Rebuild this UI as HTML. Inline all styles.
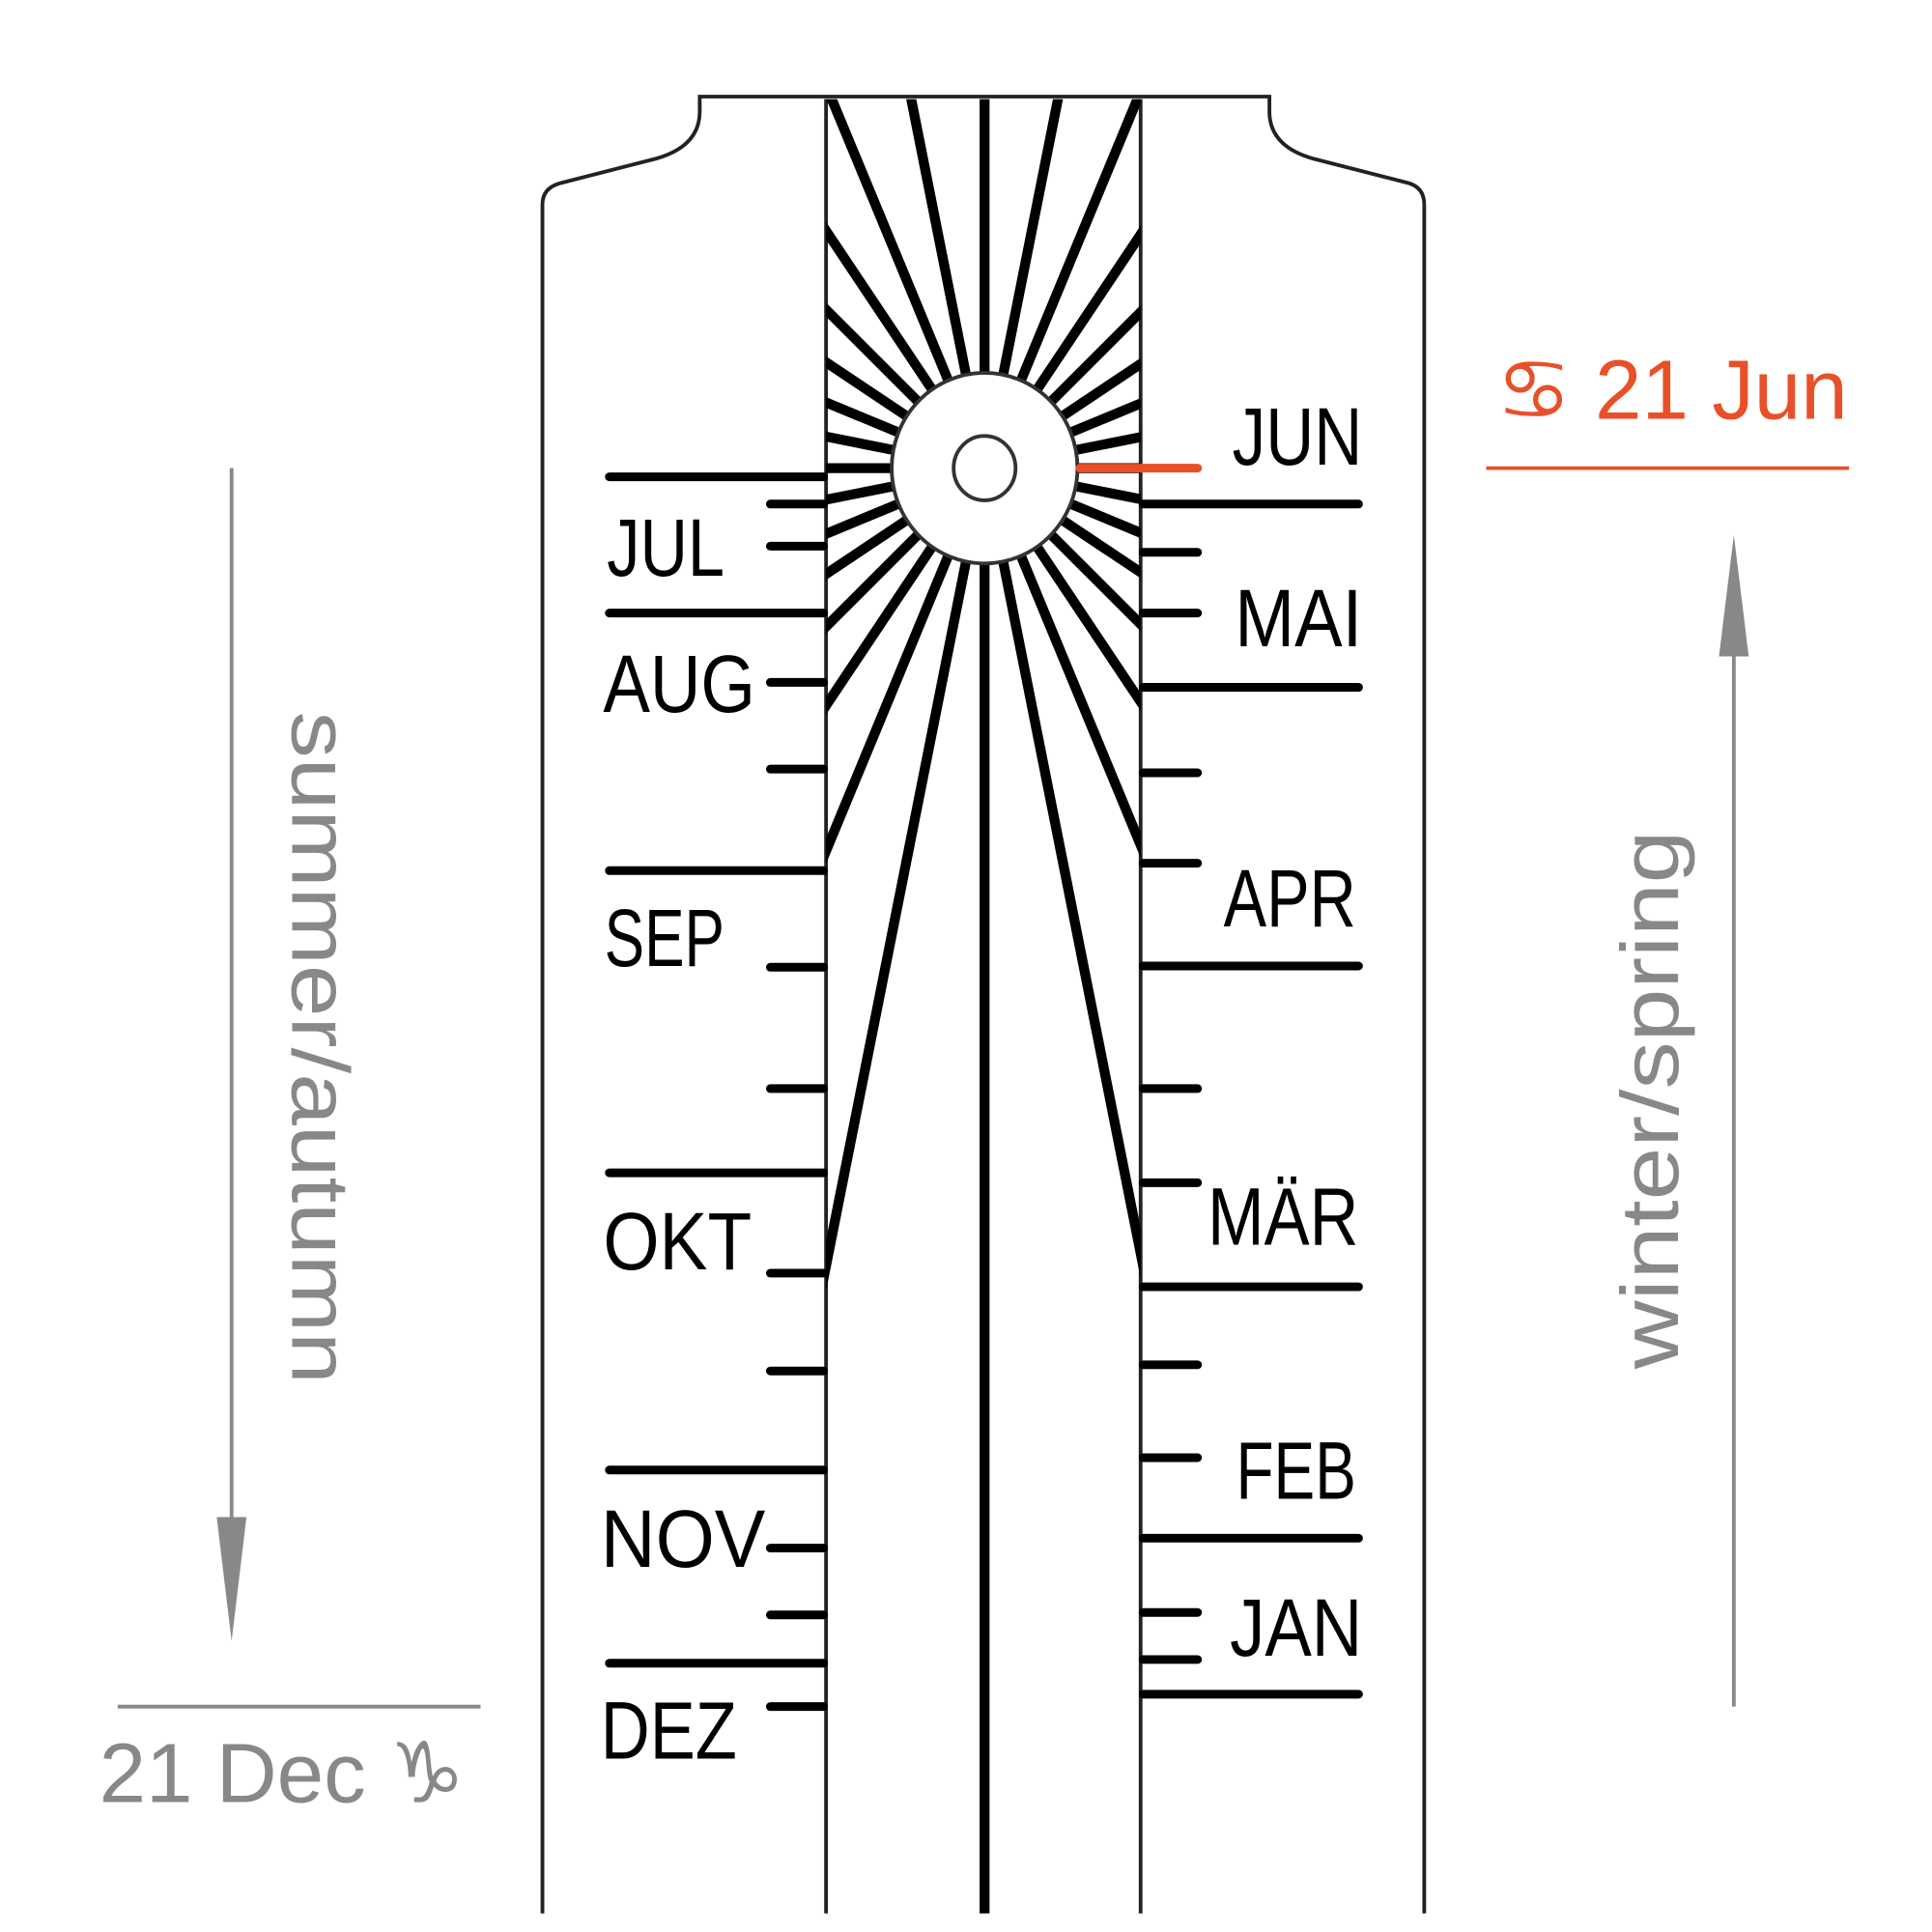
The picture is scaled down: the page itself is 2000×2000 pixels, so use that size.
<!DOCTYPE html>
<html><head><style>html,body{margin:0;padding:0;background:#fff;width:2000px;height:2000px;overflow:hidden}svg{display:block}</style></head>
<body>
<svg width="2000" height="2000" viewBox="0 0 1560 1560" xmlns="http://www.w3.org/2000/svg">
<defs><clipPath id="c"><rect x="667" y="80" width="254" height="1466"/></clipPath></defs>
<path d="M438,1545 V165 Q438,152 452,148 L530,128 Q565,118 565,90 V78 H1025 V90 Q1025,118 1060,128 L1138,148 Q1150,152 1150,165 V1545" fill="none" stroke="#222" stroke-width="3"/>
<line x1="667" y1="80" x2="667" y2="1545" stroke="#222" stroke-width="3"/>
<line x1="921" y1="80" x2="921" y2="1545" stroke="#222" stroke-width="3"/>
<g clip-path="url(#c)" stroke="#000" stroke-width="8">
<line x1="806.7" y1="436.8" x2="1185" y2="2340"/>
<line x1="818" y1="433.4" x2="1560" y2="2226"/>
<line x1="828.3" y1="427.9" x2="1906" y2="2041"/>
<line x1="837.4" y1="420.4" x2="2209" y2="1792"/>
<line x1="844.9" y1="411.3" x2="2458" y2="1489"/>
<line x1="850.4" y1="401" x2="2643" y2="1143"/>
<line x1="853.8" y1="389.7" x2="2757" y2="768"/>
<line x1="855" y1="378" x2="2795" y2="378"/>
<line x1="853.8" y1="366.3" x2="2757" y2="-12"/>
<line x1="850.4" y1="355" x2="2643" y2="-387"/>
<line x1="844.9" y1="344.7" x2="2458" y2="-733"/>
<line x1="837.4" y1="335.6" x2="2209" y2="-1036"/>
<line x1="828.3" y1="328.1" x2="1906" y2="-1285"/>
<line x1="818" y1="322.6" x2="1560" y2="-1470"/>
<line x1="806.7" y1="319.2" x2="1185" y2="-1584"/>
<line x1="783.3" y1="436.8" x2="405" y2="2340"/>
<line x1="772" y1="433.4" x2="30" y2="2226"/>
<line x1="761.7" y1="427.9" x2="-316" y2="2041"/>
<line x1="752.6" y1="420.4" x2="-619" y2="1792"/>
<line x1="745.1" y1="411.3" x2="-868" y2="1489"/>
<line x1="739.6" y1="401" x2="-1053" y2="1143"/>
<line x1="736.2" y1="389.7" x2="-1167" y2="768"/>
<line x1="735" y1="378" x2="-1205" y2="378"/>
<line x1="736.2" y1="366.3" x2="-1167" y2="-12"/>
<line x1="739.6" y1="355" x2="-1053" y2="-387"/>
<line x1="745.1" y1="344.7" x2="-868" y2="-733"/>
<line x1="752.6" y1="335.6" x2="-619" y2="-1036"/>
<line x1="761.7" y1="328.1" x2="-316" y2="-1285"/>
<line x1="772" y1="322.6" x2="30" y2="-1470"/>
<line x1="783.3" y1="319.2" x2="405" y2="-1584"/>
</g>
<line x1="795" y1="80" x2="795" y2="1545" stroke="#000" stroke-width="8"/>
<ellipse cx="795" cy="378" rx="75" ry="77" fill="#fff" stroke="#333" stroke-width="3"/>
<ellipse cx="795" cy="378" rx="25" ry="26" fill="#fff" stroke="#333" stroke-width="3"/>
<line x1="872" y1="378" x2="967" y2="378" stroke="#e8502a" stroke-width="7" stroke-linecap="round"/>
<g stroke="#000" stroke-width="7" stroke-linecap="round">
<path d="M492,385H665M492,495H665M492,703H665M492,947H665M492,1187H665M492,1343H665"/>
<path d="M622,407H665M622,441H665M622,551H665M622,621H665M622,781H665M622,879H665M622,1028H665M622,1107H665M622,1250H665M622,1304H665M622,1378H665"/>
<path d="M923,407H1097M923,555H1097M923,780H1097M923,1039H1097M923,1242H1097M923,1368H1097"/>
<path d="M923,446H967M923,495H967M923,624H967M923,697H967M923,879H967M923,955H967M923,1102H967M923,1177H967M923,1302H967M923,1340H967"/>
</g>
<g font-family="Liberation Sans, sans-serif" font-size="66" fill="#000">
<text x="995" y="375" textLength="105" lengthAdjust="spacingAndGlyphs">JUN</text>
<text x="997" y="522" textLength="103" lengthAdjust="spacingAndGlyphs">MAI</text>
<text x="988" y="748" textLength="107" lengthAdjust="spacingAndGlyphs">APR</text>
<text x="975" y="1005" textLength="122" lengthAdjust="spacingAndGlyphs">MÄR</text>
<text x="998" y="1210" textLength="97" lengthAdjust="spacingAndGlyphs">FEB</text>
<text x="993" y="1337" textLength="107" lengthAdjust="spacingAndGlyphs">JAN</text>
<text x="490" y="465" textLength="95" lengthAdjust="spacingAndGlyphs">JUL</text>
<text x="487" y="575" textLength="123" lengthAdjust="spacingAndGlyphs">AUG</text>
<text x="488" y="780" textLength="97" lengthAdjust="spacingAndGlyphs">SEP</text>
<text x="487" y="1025" textLength="120" lengthAdjust="spacingAndGlyphs">OKT</text>
<text x="485" y="1265" textLength="133" lengthAdjust="spacingAndGlyphs">NOV</text>
<text x="485" y="1420" textLength="110" lengthAdjust="spacingAndGlyphs">DEZ</text>
</g>
<g stroke="#888" fill="#888">
<line x1="187" y1="378" x2="187" y2="1240" stroke-width="3"/>
<polygon points="175,1225 199,1225 187,1325" stroke="none"/>
<line x1="1400" y1="1378" x2="1400" y2="520" stroke-width="3"/>
<polygon points="1388,530 1412,530 1400,432" stroke="none"/>
<line x1="95" y1="1378" x2="388" y2="1378" stroke-width="3"/>
</g>
<line x1="1200" y1="378" x2="1493" y2="378" stroke="#e8502a" stroke-width="3"/>
<text x="80" y="1455" font-family="Liberation Sans, DejaVu Sans, sans-serif" font-size="68" fill="#888">21 Dec <tspan font-family="DejaVu Sans, sans-serif">♑</tspan></text>
<text x="1208" y="338" font-family="Liberation Sans, DejaVu Sans, sans-serif" font-size="68" fill="#e8502a"><tspan font-family="DejaVu Sans, sans-serif">♋</tspan> 21 Jun</text>
<text transform="translate(236,846) rotate(90)" text-anchor="middle" font-family="Liberation Sans, sans-serif" font-size="66" fill="#888" textLength="543" lengthAdjust="spacingAndGlyphs">summer/autumn</text>
<text transform="translate(1355,888) rotate(-90)" text-anchor="middle" font-family="Liberation Sans, sans-serif" font-size="66" fill="#888" textLength="435" lengthAdjust="spacingAndGlyphs">winter/spring</text>
</svg>
</body></html>
